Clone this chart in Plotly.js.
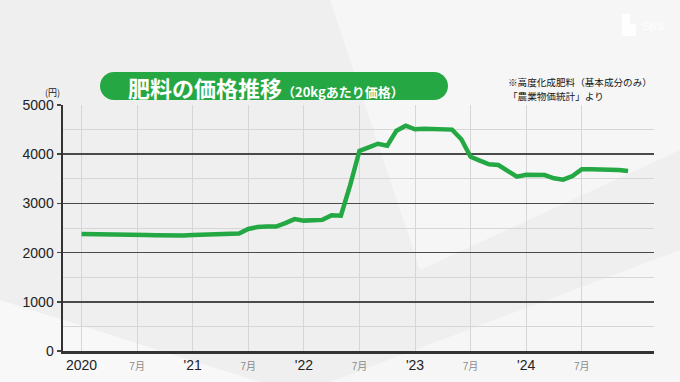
<!DOCTYPE html>
<html>
<head>
<meta charset="utf-8">
<script src="https://cdn.plot.ly/plotly-3.0.1.min.js"></script>
<style>
html,body{margin:0;padding:0;background:#efefef;}
#chart{width:680px;height:382px;}
</style>
</head>
<body>
<div id="chart"></div>
<script>
// ---- data ----
const monthIndex = Array.from({length: 60}, (_, i) => i); // Jan 2020 .. Dec 2024
const prices = [
  2380, 2380, 2380, 2380, 2378, 2370, 2363, 2360, 2355, 2350, 2348, 2348,
  2360, 2365, 2365, 2365, 2370, 2390, 2480, 2520, 2530, 2530, 2600, 2680,
  2650, 2660, 2665, 2760, 2750, 3370, 4065, 4140, 4213, 4173, 4478, 4579,
  4506, 4518, 4506, 4506, 4500, 4303, 3949, 3868, 3795, 3780, 3665, 3543,
  3583, 3583, 3577, 3510, 3482, 3557, 3693, 3693, 3693, 3700, 3679, 3659
];
const tickPositions = [0, 6, 12, 18, 24, 30, 36, 42, 48, 54];
const tickLabels = ["2020", "7月", "'21", "7月", "'22", "7月", "'23", "7月", "'24", "7月"];
const titleMain = "肥料の価格推移";
const titleSub = "（20kgあたり価格）";
const noteLine1 = "※高度化成肥料（基本成分のみ）";
const noteLine2 = "「農業物価統計」より";
const unitText = "(円)";

// ---- layout helpers ----
const W = 680, H = 382;
const M = {l: 63, r: 26, t: 105, b: 31};
const PW = W - M.l - M.r, PH = H - M.t - M.b;
const px = x => (x - M.l) / PW;
const py = y => (H - M.b - y) / PH;

function pill(x0, y0, x1, y1) {
  const r = (y1 - y0) / 2;
  const k = 0.55;
  const P = (x, y) => px(x) + ',' + py(y);
  return 'M' + P(x0 + r, y0) + ' L' + P(x1 - r, y0) +
    ' C' + P(x1 - r + r * k, y0) + ' ' + P(x1, y0 + r - r * k) + ' ' + P(x1, y0 + r) +
    ' C' + P(x1, y0 + r + r * k) + ' ' + P(x1 - r + r * k, y1) + ' ' + P(x1 - r, y1) +
    ' L' + P(x0 + r, y1) +
    ' C' + P(x0 + r - r * k, y1) + ' ' + P(x0, y0 + r + r * k) + ' ' + P(x0, y0 + r) +
    ' C' + P(x0, y0 + r - r * k) + ' ' + P(x0 + r - r * k, y0) + ' ' + P(x0 + r, y0) + ' Z';
}
function poly(points) {
  return 'M' + points.map(p => px(p[0]) + ',' + py(p[1])).join(' L') + ' Z';
}

const tickText = tickLabels.map(t => t.indexOf('月') >= 0
  ? '<span style="font-size:10px;color:#8a8a8a">' + t + '</span>'
  : t);

const trace = {
  x: monthIndex,
  y: prices,
  type: 'scatter',
  mode: 'lines',
  line: {color: '#23a844', width: 4.5, shape: 'linear'},
  hoverinfo: 'skip'
};

const layout = {
  width: W, height: H,
  margin: M,
  paper_bgcolor: '#efefef',
  plot_bgcolor: 'rgba(0,0,0,0)',
  showlegend: false,
  font: {family: 'Arial, "Liberation Sans", "Noto Sans CJK JP", sans-serif', color: '#222', size: 14},
  xaxis: {
    range: [-2.0, 61.8],
    tickmode: 'array',
    tickvals: tickPositions,
    ticktext: tickText,
    showgrid: true,
    gridcolor: '#d6d6d6',
    gridwidth: 1,
    zeroline: false,
    showline: true,
    linecolor: '#333',
    linewidth: 2.5,
    ticks: '',
    ticklen: 0,
    tickfont: {size: 14, color: '#222'},
    fixedrange: true
  },
  yaxis: {
    range: [0, 5000],
    tick0: 0,
    dtick: 1000,
    showgrid: true,
    gridcolor: '#4a4a4a',
    gridwidth: 1.5,
    minor: {dtick: 500, showgrid: true, gridcolor: '#d6d6d6', gridwidth: 1},
    zeroline: false,
    showline: true,
    linecolor: '#333',
    linewidth: 2.5,
    ticks: 'outside',
    ticklen: 4,
    tickwidth: 1.5,
    tickcolor: '#444',
    tickfont: {size: 14, color: '#222'},
    fixedrange: true
  },
  shapes: [
    {type: 'path', xref: 'paper', yref: 'paper', layer: 'below',
     path: poly([[0, 382], [0, 300], [260, 382]]),
     fillcolor: 'rgba(255,255,255,0.55)', line: {width: 0}},
    {type: 'path', xref: 'paper', yref: 'paper', layer: 'below',
     path: poly([[330, 0], [680, 0], [680, 150], [420, 270]]),
     fillcolor: 'rgba(255,255,255,0.45)', line: {width: 0}},
    {type: 'path', xref: 'paper', yref: 'paper', layer: 'below',
     path: poly([[330, 382], [680, 250], [680, 382]]),
     fillcolor: 'rgba(255,255,255,0.45)', line: {width: 0}},
    {type: 'path', xref: 'paper', yref: 'paper', layer: 'above',
     path: pill(100, 72, 448, 100),
     fillcolor: '#25a843', line: {width: 0}},
    {type: 'path', xref: 'paper', yref: 'paper', layer: 'below',
     path: poly([[622, 14], [630, 14], [630, 24], [636, 24], [636, 36], [622, 36]]),
     fillcolor: 'rgba(255,255,255,0.9)', line: {width: 0}}
  ],
  annotations: [
    {xref: 'paper', yref: 'paper', x: px(126), y: py(86.5), xanchor: 'left', yanchor: 'middle',
     showarrow: false,
     text: '<b>' + titleMain + '</b><b><span style="font-size:13px">' + titleSub + '</span></b>',
     font: {family: '"Noto Sans CJK JP", sans-serif', size: 22, color: '#ffffff'}},
    {xref: 'paper', yref: 'paper', x: px(507), y: py(82.5), xanchor: 'left', yanchor: 'middle',
     align: 'left', showarrow: false, text: noteLine1, borderpad: 0,
     font: {family: '"Noto Sans CJK JP", sans-serif', size: 9.6, color: '#151515'}},
    {xref: 'paper', yref: 'paper', x: px(507), y: py(95.5), xanchor: 'left', yanchor: 'middle',
     align: 'left', showarrow: false, text: noteLine2, borderpad: 0,
     font: {family: '"Noto Sans CJK JP", sans-serif', size: 9.6, color: '#151515'}},
    {xref: 'paper', yref: 'paper', x: px(52), y: py(92), xanchor: 'center', yanchor: 'middle',
     showarrow: false, text: unitText,
     font: {family: '"Noto Sans CJK JP", sans-serif', size: 9, color: '#222'}},
    {xref: 'paper', yref: 'paper', x: px(640), y: py(26), xanchor: 'left', yanchor: 'middle',
     showarrow: false, text: 'SBS',
     font: {family: 'Arial, sans-serif', size: 11, color: 'rgba(255,255,255,0.95)'}}
  ]
};

Plotly.newPlot('chart', [trace], layout, {displayModeBar: false, staticPlot: true});
</script>
</body>
</html>
